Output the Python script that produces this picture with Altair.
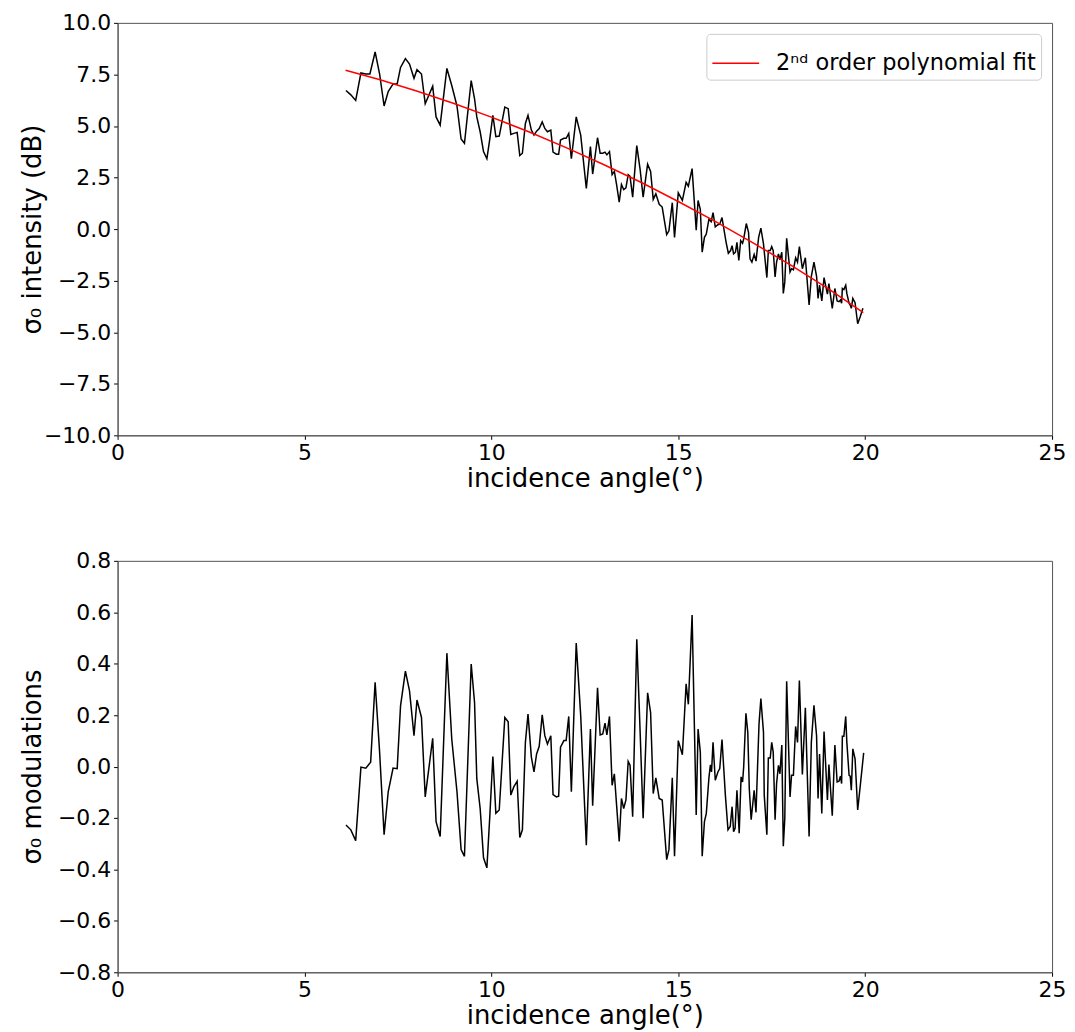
import altair as alt
import pandas as pd

# ---- top panel: sigma0 intensity (dB) ----
angle_top = [6.11, 6.24, 6.37, 6.51, 6.64, 6.75, 6.89, 7.01, 7.13, 7.24, 7.37, 7.48, 7.57, 7.70, 7.81, 7.93,
             8.01, 8.13, 8.23, 8.43, 8.52, 8.63, 8.81, 8.94, 9.08, 9.19, 9.28, 9.46, 9.55, 9.61, 9.70, 9.79,
             9.88, 9.96, 10.04, 10.12, 10.21, 10.36, 10.45, 10.52, 10.60, 10.69, 10.76, 10.83, 10.91, 10.98,
             11.07, 11.14, 11.21, 11.28, 11.36, 11.43, 11.50, 11.59, 11.65, 11.74, 11.80, 11.85, 11.94, 12.00,
             12.07, 12.14, 12.27, 12.39, 12.54, 12.65, 12.71, 12.84, 12.91, 12.98, 13.04, 13.09, 13.16, 13.23,
             13.29, 13.35, 13.42, 13.48, 13.54, 13.60, 13.66, 13.71, 13.78, 13.89, 13.98, 14.06, 14.18, 14.26,
             14.33, 14.40, 14.49, 14.57, 14.69, 14.75, 14.84, 14.90, 15.00, 15.11, 15.21, 15.27, 15.37, 15.48,
             15.53, 15.59, 15.64, 15.70, 15.75, 15.82, 15.88, 15.93, 15.99, 16.06, 16.11, 16.17, 16.28, 16.34,
             16.40, 16.44, 16.48, 16.53, 16.57, 16.62, 16.67, 16.72, 16.75, 16.82, 16.88, 16.92, 16.97, 17.03,
             17.08, 17.15, 17.21, 17.28, 17.37, 17.41, 17.46, 17.50, 17.54, 17.59, 17.63, 17.68, 17.72, 17.77,
             17.81, 17.85, 17.90, 17.99, 18.03, 18.08, 18.14, 18.19, 18.24, 18.32, 18.40, 18.50, 18.56, 18.63,
             18.70, 18.74, 18.78, 18.84, 18.90, 18.99, 19.03, 19.12, 19.19, 19.25, 19.30, 19.34, 19.37, 19.39,
             19.43, 19.48, 19.51, 19.57, 19.60, 19.63, 19.67, 19.73, 19.80, 19.87, 19.94]
intensity = [6.72, 6.51, 6.24, 7.57, 7.52, 7.52, 8.59, 7.52, 5.97, 6.67, 7.04, 7.04, 7.84, 8.27, 8.00, 7.31,
             7.73, 7.52, 6.08, 6.93, 5.44, 5.04, 7.79, 6.96, 5.97, 4.37, 4.16, 7.20, 6.32, 5.44, 4.72, 3.76,
             3.41, 4.40, 5.52, 4.48, 4.51, 5.92, 5.84, 4.59, 4.64, 4.69, 3.57, 3.68, 5.12, 5.52,
             4.80, 4.56, 4.75, 4.88, 5.20, 4.88, 4.72, 4.80, 3.73, 3.63, 3.63, 4.32, 4.40, 4.40,
             4.64, 3.41, 5.44, 4.56, 1.97, 4.00, 2.67, 4.43, 3.68, 3.68, 3.73, 3.60, 3.76, 2.64,
             2.80, 2.16, 1.31, 2.16, 1.92, 2.00, 2.64, 2.56, 1.55, 4.05, 2.88, 1.55, 3.15, 2.80,
             1.44, 1.71, 1.20, 1.07, -0.27, -0.08, 1.28, -0.40, 1.76, 1.39, 2.27, 2.08, 2.93, -0.05,
             1.39, 0.96, -1.12, -0.40, -0.24, 0.48, 0.36, 0.80, 0.11, 0.21, 0.24, 0.56, -0.64, -1.17,
             -1.04, -0.80, -1.20, -1.12, -0.64, -1.52, -0.56, -0.69, -0.48, 0.27, -0.16, -1.44, -1.60, -1.23,
             -1.55, -0.40, 0.05, -0.72, -2.35, -1.04, -1.04, -0.85, -1.04, -2.32, -1.60, -1.20, -1.49, -1.12,
             -3.12, -2.56, -0.45, -2.08, -1.92, -1.97, -1.39, -1.60, -0.85, -1.92, -1.39, -3.68, -2.29, -1.60,
             -2.29, -3.36, -2.72, -3.48, -2.35, -3.15, -2.64, -3.84, -2.88, -3.48, -3.52, -3.44, -3.60, -2.88,
             -2.93, -2.72, -3.12, -3.60, -3.68, -3.84, -3.36, -3.57, -4.59, -4.24, -3.84]

# 2nd order polynomial fit
fit_angle = [6.10, 7.0, 8.0, 9.0, 10.0, 11.0, 12.0, 13.0, 14.0, 15.0, 16.0, 17.0, 18.0, 19.0, 19.95]
fit_value = [7.70, 7.25, 6.70, 6.09, 5.43, 4.72, 3.95, 3.13, 2.27, 1.34, 0.36, -0.67, -1.74, -2.88, -4.05]

# ---- bottom panel: sigma0 modulations ----
angle_bot = [6.11, 6.24, 6.37, 6.51, 6.64, 6.77, 6.89, 7.01, 7.13, 7.24, 7.37, 7.48, 7.57, 7.70, 7.81, 7.93,
             8.01, 8.13, 8.23, 8.43, 8.52, 8.63, 8.81, 8.94, 9.08, 9.19, 9.28, 9.46, 9.55, 9.61, 9.70, 9.79,
             9.88, 9.96, 10.04, 10.12, 10.21, 10.36, 10.45, 10.52, 10.60, 10.69, 10.76, 10.83, 10.91, 10.98,
             11.07, 11.14, 11.21, 11.28, 11.36, 11.43, 11.50, 11.59, 11.65, 11.74, 11.80, 11.85, 11.94, 12.00,
             12.07, 12.14, 12.27, 12.39, 12.54, 12.65, 12.71, 12.84, 12.91, 12.98, 13.04, 13.09, 13.16, 13.23,
             13.29, 13.35, 13.42, 13.48, 13.54, 13.60, 13.66, 13.71, 13.78, 13.89, 13.98, 14.06, 14.18, 14.26,
             14.33, 14.40, 14.49, 14.57, 14.69, 14.75, 14.84, 14.90, 15.00, 15.11, 15.21, 15.27, 15.37, 15.48,
             15.53, 15.59, 15.64, 15.70, 15.75, 15.82, 15.86, 15.89, 15.93, 15.99, 16.06, 16.11, 16.17, 16.26,
             16.33, 16.39, 16.44, 16.48, 16.52, 16.57, 16.63, 16.68, 16.72, 16.75, 16.81, 16.86, 16.90, 16.95,
             17.03, 17.08, 17.16, 17.21, 17.28, 17.30, 17.37, 17.41, 17.46, 17.50, 17.54, 17.59, 17.63, 17.68,
             17.72, 17.77, 17.81, 17.85, 17.90, 17.99, 18.03, 18.08, 18.14, 18.19, 18.24, 18.32, 18.40, 18.50,
             18.56, 18.63, 18.70, 18.74, 18.78, 18.84, 18.90, 18.99, 19.03, 19.12, 19.19, 19.25, 19.30, 19.34,
             19.37, 19.39, 19.43, 19.48, 19.51, 19.57, 19.60, 19.63, 19.67, 19.73, 19.80, 19.87, 19.96]
modulation = [-0.227, -0.246, -0.288, -0.002, -0.006, 0.017, 0.328, 0.056, -0.265, -0.098, -0.006, -0.008,
              0.236, 0.371, 0.294, 0.120, 0.259, 0.191, -0.118, 0.110, -0.214, -0.272, 0.441, 0.107, -0.098,
              -0.323, -0.349, 0.399, 0.249, -0.047, -0.163, -0.355, -0.394, -0.188, 0.039, -0.182, -0.169,
              0.191, 0.174, -0.111, -0.079, -0.057, -0.276, -0.246, 0.094, 0.204, 0.037, -0.021, 0.049, 0.079,
              0.201, 0.120, 0.088, 0.120, -0.109, -0.118, -0.115, 0.075, 0.101, 0.101, 0.195, -0.098, 0.480,
              0.197, -0.306, 0.146, -0.152, 0.306, 0.123, 0.127, 0.169, 0.123, 0.195, -0.073, -0.028, -0.150,
              -0.291, -0.124, -0.163, -0.130, 0.020, 0.005, -0.195, 0.495, 0.133, -0.201, 0.287, 0.210, -0.105,
              -0.044, -0.124, -0.130, -0.362, -0.323, -0.044, -0.349, 0.101, 0.046, 0.322, 0.242, 0.589, -0.188,
              0.146, 0.056, -0.349, -0.214, -0.182, -0.044, 0.007, -0.021, 0.094, -0.053, -0.021, -0.008, 0.105,
              -0.111, -0.246, -0.233, -0.156, -0.253, -0.240, -0.092, -0.259, -0.040, -0.060, -0.002, 0.207,
              0.133, -0.086, -0.207, -0.092, -0.178, 0.165, 0.264, 0.133, -0.111, -0.265, 0.033, 0.033, 0.094,
              0.056, -0.207, -0.066, 0.005, -0.028, 0.084, -0.310, -0.201, 0.332, -0.118, -0.034, -0.034, 0.156,
              0.094, 0.335, -0.031, 0.229, -0.272, 0.094, 0.238, 0.120, -0.124, 0.049, -0.182, 0.136, -0.130,
              0.008, -0.191, 0.084, -0.060, -0.057, -0.037, -0.066, 0.118, 0.118, 0.195, 0.094, -0.034, -0.037,
              -0.092, 0.069, 0.030, -0.169, -0.073, 0.053]

x_ticks = [0, 5, 10, 15, 20, 25]
top_y_ticks = [-10.0, -7.5, -5.0, -2.5, 0.0, 2.5, 5.0, 7.5, 10.0]
bot_y_ticks = [-0.8, -0.6, -0.4, -0.2, 0.0, 0.2, 0.4, 0.6, 0.8]
legend_label = "2ⁿᵈ order polynomial fit"

top_df = pd.DataFrame({"angle": angle_top, "intensity": intensity, "i": range(len(angle_top))})
fit_df = pd.DataFrame({"angle": fit_angle, "value": fit_value, "series": legend_label})
bot_df = pd.DataFrame({"angle": angle_bot, "modulation": modulation, "i": range(len(angle_bot))})

W = 938
H_TOP = 414
H_BOT = 413
X_TITLE = "incidence angle(°)"
Y_EXTENT = 72


def x_enc():
    return alt.X("angle:Q", scale=alt.Scale(domain=[0, 25], nice=False, zero=False),
                 axis=alt.Axis(values=x_ticks, format="d", title=X_TITLE))


top_line = alt.Chart(top_df).mark_line(color="black", strokeWidth=1.5).encode(
    x=x_enc(),
    y=alt.Y("intensity:Q", scale=alt.Scale(domain=[-10, 10], nice=False, zero=False),
            axis=alt.Axis(values=top_y_ticks, format=".1f", title="σ₀ intensity (dB)",
                          minExtent=Y_EXTENT, maxExtent=Y_EXTENT)),
    order=alt.Order("i:Q"),
)

fit_line = alt.Chart(fit_df).mark_line(strokeWidth=1.5).encode(
    x="angle:Q",
    y="value:Q",
    color=alt.Color("series:N", scale=alt.Scale(range=["#ff0000"]),
                    legend=alt.Legend(title=None, orient="top-right", offset=11,
                                      symbolType="stroke", symbolSize=2209, symbolStrokeWidth=1.5,
                                      labelFontSize=22.5, labelOffset=16, padding=5, labelLimit=500,
                                      strokeColor="#cccccc", fillColor="white", cornerRadius=4,
                                      labelFont="DejaVu Sans", labelColor="black")),
)

top = alt.layer(top_line, fit_line).properties(width=W, height=H_TOP)

bottom = alt.Chart(bot_df).mark_line(color="black", strokeWidth=1.5).encode(
    x=x_enc(),
    y=alt.Y("modulation:Q", scale=alt.Scale(domain=[-0.8, 0.8], nice=False, zero=False),
            axis=alt.Axis(values=bot_y_ticks, format=".1f", title="σ₀ modulations",
                          minExtent=Y_EXTENT, maxExtent=Y_EXTENT)),
    order=alt.Order("i:Q"),
).properties(width=W, height=H_BOT)

chart = alt.vconcat(top, bottom, spacing=57).properties(
    padding={"left": 11, "top": 1, "right": 0, "bottom": 0}
).configure(
    font="DejaVu Sans",
    axis=alt.AxisConfig(
        grid=False,
        labelFont="DejaVu Sans",
        titleFont="DejaVu Sans",
        labelFontSize=22,
        titleFontSize=26,
        titleFontWeight="normal",
        labelColor="black",
        titleColor="black",
        domainColor="#555555",
        tickColor="black",
        tickSize=4,
        labelPadding=3,
        labelFlush=False,
        labelOverlap=False,
    ),
    axisX=alt.AxisConfig(titlePadding=2),
    axisY=alt.AxisConfig(titlePadding=0),
    view=alt.ViewConfig(stroke="#555555", strokeWidth=1),
)

chart.save("out.html", embed_options={"renderer": "svg", "actions": False})
